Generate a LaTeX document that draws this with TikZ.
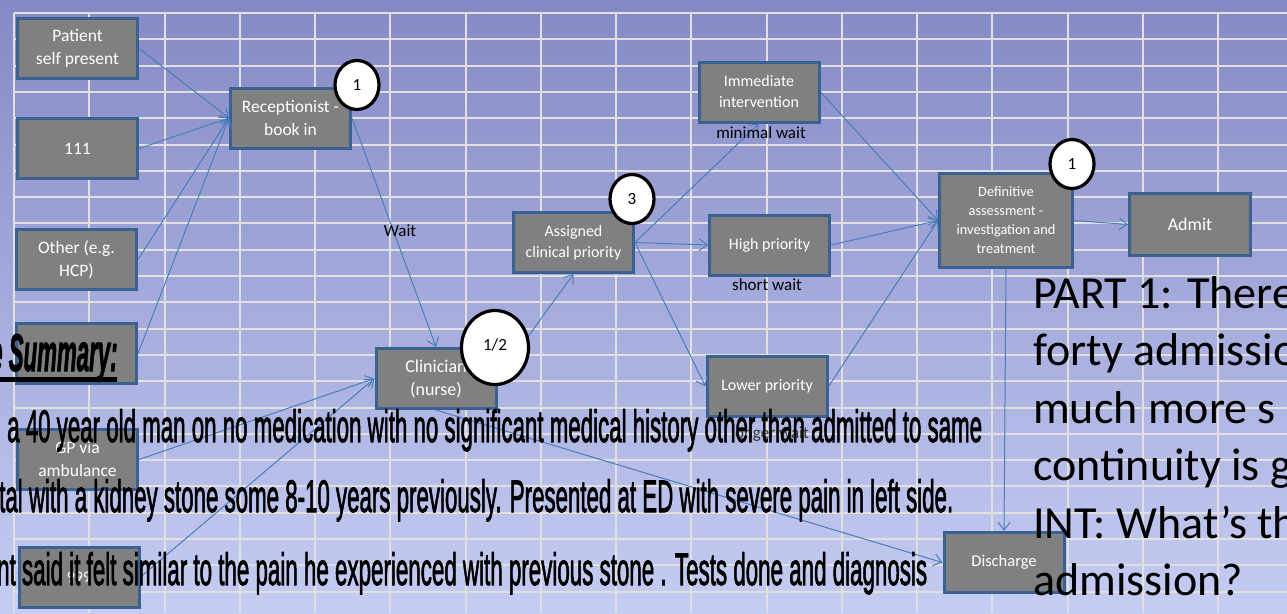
\documentclass[tikz,border=0pt]{standalone}
\usepackage{fontspec}
\setmainfont{Carlito}
\newfontfamily\arialf{Liberation Sans}[FakeBold=2.2]
\newfontfamily\arials{Liberation Sans}[BoldItalicFeatures={FakeBold=2}]
\usetikzlibrary{arrows.meta,shapes.geometric}
\definecolor{bgtop}{HTML}{8589C5}
\definecolor{bgbot}{HTML}{C6CDF3}
\definecolor{gridc}{HTML}{E0E0E0}
\definecolor{boxgray}{HTML}{808080}
\definecolor{boxborder}{HTML}{3B6192}
\definecolor{arrowblue}{HTML}{4A7EBB}
\tikzset{
  box/.style={draw=boxborder, line width=3pt, fill=boxgray, text=white, inner sep=0pt,
    align=center, minimum width=120pt, minimum height=60pt, font=\fontsize{17.5}{23}\selectfont},
  numc/.style={ellipse, draw=black, line width=3.2pt, fill=white, inner sep=0pt,
    minimum width=44pt, minimum height=49pt, font=\fontsize{17}{17}\selectfont},
  conn/.style={draw=arrowblue, line width=1pt, -{Straight Barb[length=8pt,width=12pt]}},
  lbl/.style={inner sep=0pt, text=black, font=\fontsize{17}{17}\selectfont},
  gridline/.style={draw=gridc, line width=2pt},
  body/.style={anchor=base west, inner sep=0pt, text=black},
  rtext/.style={anchor=base west, inner sep=0pt, text=black, font=\fontsize{46}{46}\selectfont}
}
\begin{document}
\begin{tikzpicture}[x=1pt,y=-1pt]
\useasboundingbox (0,0) rectangle (1287,613);
\clip (0,0) rectangle (1287,613);
\shade[top color=bgtop, bottom color=bgbot] (0,0) rectangle (1287,613);
% grid
\foreach \k in {0,...,16} \draw[gridline] ({14+75.25*\k},13) -- ({14+75.25*\k},613);
\foreach \k in {0,...,22} \draw[gridline] (14,{13+26.3*\k}) -- (1287,{13+26.3*\k});
% boxes
\node[box] (pat) at (77.5,48.5) {Patient\\self present};
\node[box] (n111) at (77.5,148.5) {111};
\node[box] (oth) at (76.5,259.5) {Other (e.g.\\HCP)};
\node[box] (hid) at (76.5,353.5) {};
\node[box] (gp) at (77.5,459.5) {GP via\\ambulance};
\node[box, font=\fontsize{16}{20}\selectfont] (n999) at (79,577) {999};
\node[box] (rec) at (290.5,118) {Receptionist -\\book in};
\node[box, font=\fontsize{18}{23}\selectfont] (clin) at (436,378.5) {Clinician\\(nurse)};
\node[box, font=\fontsize{16}{21}\selectfont] (asg) at (573.5,242.5) {Assigned\\clinical priority};
\node[box, font=\fontsize{16}{21}\selectfont] (imm) at (759,92) {Immediate\\intervention};
\node[box, font=\fontsize{16}{21}\selectfont] (high) at (769.5,245) {High priority};
\node[box, font=\fontsize{16}{21}\selectfont] (low) at (767,386.5) {Lower priority};
\node[box, minimum width=133pt, minimum height=94pt, font=\fontsize{14.3}{19}\selectfont] (def) at (1006,220.5) {Definitive\\assessment -\\investigation and\\treatment};
\node[box, minimum width=121pt, minimum height=62pt, font=\fontsize{18}{22}\selectfont] (adm) at (1190,224.5) {Admit};
\node[box, font=\fontsize{16.5}{20}\selectfont] (dis) at (1004,562.5) {Discharge};
% connectors
\draw[conn] (pat.east) -- (rec.west);
\draw[conn] (n111.east) -- (rec.west);
\draw[conn] (oth.east) -- (rec.west);
\draw[conn] (hid.east) -- (rec.west);
\draw[conn] (gp.east) -- (clin.west);
\draw[conn] (n999.east) -- (clin.west);
\draw[conn] (rec.east) -- (clin.north);
\draw[conn] (clin.east) -- (asg.south);
\draw[conn] (clin.south) -- (dis.west);
\draw[conn] (asg.east) -- (imm.south);
\draw[conn] (asg.east) -- (high.west);
\draw[conn] (asg.east) -- (low.west);
\draw[conn] (imm.east) -- (def.west);
\draw[conn] (high.east) -- (def.west);
\draw[conn] (low.east) -- (def.west);
\draw[conn] (def.south) -- (dis.north);
\draw[conn] (def.east) -- (adm.west);
% labels
\node[lbl] (lwait) at (400,231) {Wait};
\node[lbl] (lmin) at (761,133) {minimal wait};
\node[lbl] (lshort) at (767,285) {short wait};
\node[lbl, text=black!80] (llong) at (770,434) {longer wait};
% numbered circles
\node[numc] (c1) at (357,85) {1};
\node[numc] (c3) at (632,199) {3};
\node[numc] (c1b) at (1072,164) {1};
\node[numc, minimum width=67pt, minimum height=74pt] (c12) at (495,347.5) {\raisebox{6pt}{1/2}};
% summary overlay
\node[body] (summ) at (-10,371) {\scalebox{0.42}[1]{\fontsize{53}{53}\selectfont\arials\bfseries\itshape e Summary:}};
\fill[black] (0,377) rectangle (117,382);
\node[body] (l1) at (7,442) {\resizebox{975pt}{33pt}{\arialf a 40 year old man on no medication with no significant medical history other than admitted to same}};
\node[body] (l2) at (-1,512) {\resizebox{954pt}{33pt}{\arialf tal with a kidney stone some 8-10 years previously. Presented at ED with severe pain in left side.}};
\node[body] (l3) at (-3,585) {\resizebox{930pt}{33pt}{\arialf nt said it felt similar to the pain he experienced with previous stone . Tests done and diagnosis}};
% right text
\node[rtext] (r1) at (1033,308) {PART 1: There};
\node[rtext] (r2) at (1033,365.5) {forty admissio};
\node[rtext] (r3) at (1033,423) {much more s};
\node[rtext] (r4) at (1033,480.5) {continuity is g};
\node[rtext] (r5) at (1033,538) {INT: What’s th};
\node[rtext] (r6) at (1033,595.5) {admission?};
\end{tikzpicture}
\end{document}
